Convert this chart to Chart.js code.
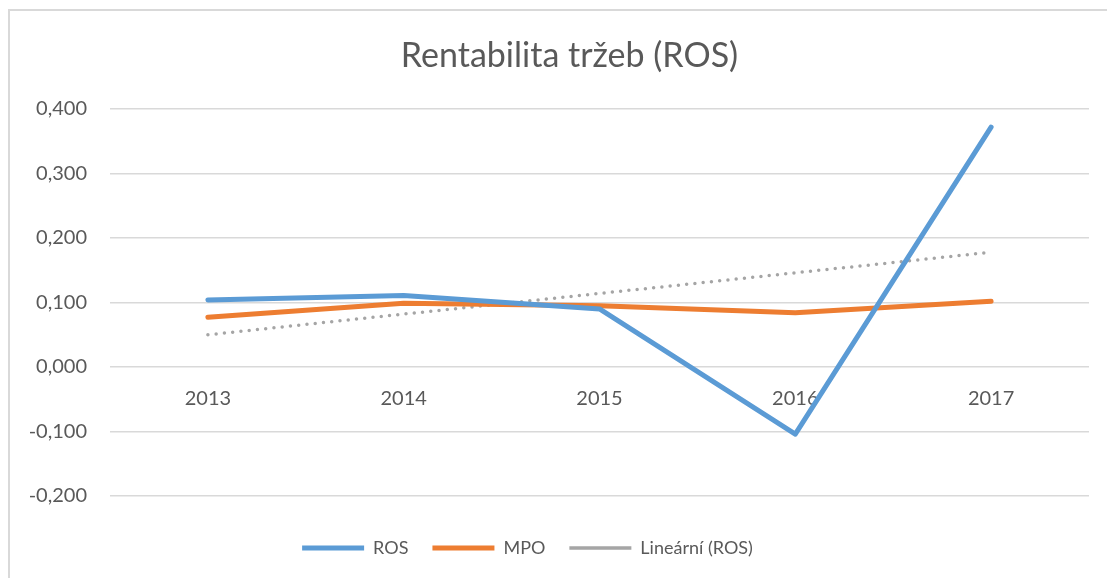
<!DOCTYPE html>
<html lang="cs">
<head>
    <meta charset="UTF-8">
    <title>Rentabilita tržeb (ROS)</title>
    <script src="https://cdn.jsdelivr.net/npm/chart.js@4.4.1/dist/chart.umd.min.js"></script>
    <style>
        html, body { margin: 0; padding: 0; background: #fff; }
        .wrap { position: relative; width: 1107px; height: 578px; overflow: hidden; }
        /* rámeček grafu - vidět je jen horní a levá hrana */
        .frame {
            position: absolute; left: 8px; top: 9px; width: 1200px; height: 700px;
            border-top: 2px solid #d9d9d9; border-left: 2px solid #d9d9d9;
        }
        canvas { position: absolute; left: 0; top: 0; }
    </style>
</head>
<body>
    <div class="wrap">
        <div class="frame"></div>
        <canvas id="rosChart" width="1107" height="578"></canvas>
    </div>

    <script>
        // data
        const years = ['2013', '2014', '2015', '2016', '2017'];
        const rosValues = [0.104, 0.111, 0.090, -0.104, 0.372];
        const mpoValues = [0.077, 0.099, 0.095, 0.084, 0.102];
        const trendValues = [0.050, 0.082, 0.114, 0.146, 0.178];
        const yTicks = [-0.2, -0.1, 0, 0.1, 0.2, 0.3, 0.4];

        const textColor = '#595959';
        const gridColor = '#d9d9d9';
        const fontFamily = 'Lato, "Open Sans", sans-serif';

        // formát čísel s desetinnou čárkou
        function formatCz(v) {
            return v.toFixed(3).replace('.', ',');
        }

        // posun titulku a legendy jako v Excelu (rámeček grafu je širší než obrázek)
        const shiftBlocks = {
            id: 'shiftBlocks',
            afterLayout(chart) {
                chart.titleBlock.left += 25;
                chart.titleBlock.right += 25;
                chart.legend.left -= 17;
                chart.legend.right -= 17;
                chart.legend.top += 19;
                chart.legend.bottom += 19;
            }
        };

        function renderChart() {
            const ctx = document.getElementById('rosChart').getContext('2d');

            new Chart(ctx, {
                type: 'line',
                data: {
                    labels: years,
                    datasets: [{
                        label: 'ROS',
                        data: rosValues,
                        borderColor: '#5b9bd5',
                        backgroundColor: '#5b9bd5',
                        borderWidth: 5,
                        borderCapStyle: 'round',
                        borderJoinStyle: 'round',
                        pointRadius: 0,
                        tension: 0
                    }, {
                        label: 'MPO',
                        data: mpoValues,
                        borderColor: '#ed7d31',
                        backgroundColor: '#ed7d31',
                        borderWidth: 5,
                        borderCapStyle: 'round',
                        borderJoinStyle: 'round',
                        pointRadius: 0,
                        tension: 0
                    }, {
                        label: 'Lineární (ROS)',
                        data: trendValues,
                        borderColor: '#a5a5a5',
                        backgroundColor: '#a5a5a5',
                        borderWidth: 3.5,
                        borderDash: [0, 8.3],
                        borderCapStyle: 'round',
                        pointRadius: 0,
                        tension: 0
                    }]
                },
                options: {
                    responsive: false,
                    animation: false,
                    layout: {
                        padding: { left: 0, right: 18, top: 0, bottom: 30 }
                    },
                    plugins: {
                        title: {
                            display: true,
                            text: 'Rentabilita tržeb (ROS)',
                            color: textColor,
                            font: { family: fontFamily, size: 34, weight: 'normal' },
                            padding: { top: 35.6, bottom: 32.6 }
                        },
                        legend: {
                            position: 'bottom',
                            labels: {
                                color: textColor,
                                font: { family: fontFamily, size: 18 },
                                usePointStyle: true,
                                pointStyle: 'line',
                                pointStyleWidth: 62,
                                boxWidth: 62,
                                padding: 24
                            }
                        },
                        tooltip: { enabled: false }
                    },
                    scales: {
                        x: {
                            type: 'category',
                            offset: true,
                            position: { y: 0 },
                            grid: { display: false, drawTicks: false },
                            border: { display: false },
                            ticks: {
                                color: textColor,
                                font: { family: fontFamily, size: 20 },
                                padding: 20,
                                maxRotation: 0
                            }
                        },
                        y: {
                            min: yTicks[0],
                            max: yTicks[yTicks.length - 1],
                            afterBuildTicks: (scale) => {
                                scale.ticks = yTicks.map(v => ({ value: v }));
                            },
                            afterFit: (scale) => {
                                scale.width = 110;
                            },
                            grid: { color: gridColor, lineWidth: 1.5, drawTicks: false },
                            border: { display: false },
                            ticks: {
                                color: textColor,
                                font: { family: fontFamily, size: 20 },
                                padding: 23,
                                callback: (v) => formatCz(v)
                            }
                        }
                    }
                },
                plugins: [shiftBlocks]
            });
        }

        renderChart();
    </script>
</body>
</html>
